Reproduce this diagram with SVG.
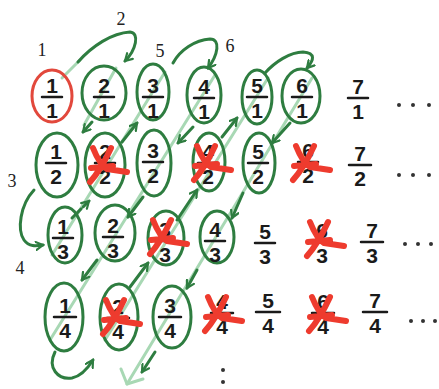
<svg xmlns="http://www.w3.org/2000/svg" width="439" height="389" viewBox="0 0 439 389">
<defs>
<style>
.el{fill:none;stroke:#2e7d40;stroke-width:3}
.red{fill:none;stroke:#e2483c;stroke-width:3}
.ar{fill:none;stroke:#2e7d40;stroke-width:3;stroke-linecap:round;marker-end:url(#ah)}
.lt{fill:none;stroke:#a8d8b4;stroke-width:3;stroke-linecap:round}
.d{font-family:"Liberation Sans",Arial,sans-serif;font-size:21px;font-weight:bold;fill:#1a1a1a;text-anchor:middle}
.bar{stroke:#1a1a1a;stroke-width:2.5;stroke-linecap:round}
.lab{font-family:"Liberation Serif","Times New Roman",serif;font-size:18px;fill:#222;text-anchor:middle}
.x{fill:none;stroke:#ee3b2e;stroke-width:6;stroke-linecap:round;stroke-linejoin:round}
.dot{fill:#333}
</style>
<marker id="ah" viewBox="0 0 10 10" refX="8" refY="5" markerWidth="10" markerHeight="10" markerUnits="userSpaceOnUse" orient="auto">
<path d="M1,1 L8,5 L1,9" fill="none" stroke="#2e7d40" stroke-width="2.2" stroke-linecap="round"/>
</marker>
<path id="cross" d="M-12,-18 C-8,-8 -4,0 2,3 L22,6 M6,-18 C0,-5 -6,6 -15,16 M-14,2 L8,0"/>
</defs>

<g id="connectors">
<path class="lt" d="M62,78 L80,60"/>
<path class="lt" d="M116,68 L84,125"/>
<path class="lt" d="M52,255 L165,72"/>
<path class="lt" d="M215,75 L50,340"/>
<path class="lt" d="M268,78 L105,340"/>
<path class="lt" d="M312,78 L127,384"/>
<path class="lt" d="M127,384 L121,369 M127,384 L143,379"/>
<path class="ar" d="M78,62 C92,46 112,33 130,32 C140,33 136,50 125,61"/>
<path class="ar" d="M92,122 L83,132"/>
<path class="ar" d="M34,190 C20,205 17,230 24,240 C29,247 36,246 43,245"/>
<path class="ar" d="M72,218 L89,201" stroke-dasharray="5 3"/>
<path class="ar" d="M122,142 L137,123"/>
<path class="ar" d="M173,63 C180,50 195,40 210,39 C221,39 218,55 208,68"/>
<path class="ar" d="M193,127 L178,143"/>
<path class="ar" d="M143,197 L128,217"/>
<path class="ar" d="M97,260 L82,280"/>
<path class="ar" d="M55,352 C47,368 58,380 72,378 C82,376 88,368 93,360"/>
<path class="ar" d="M130,287 L148,263"/>
<path class="ar" d="M177,220 L197,190"/>
<path class="ar" d="M222,137 L237,118"/>
<path class="ar" d="M265,73 C275,62 290,52 303,52 C316,53 314,60 307,68"/>
<path class="ar" d="M290,123 L272,143"/>
<path class="ar" d="M243,193 L232,218"/>
<path class="ar" d="M197,270 L187,288"/>
<path class="ar" d="M155,352 L142,372"/>
</g>

<g id="labels">
<text class="lab" x="42" y="56">1</text>
<text class="lab" x="121" y="25">2</text>
<text class="lab" x="12" y="187">3</text>
<text class="lab" x="20" y="274">4</text>
<text class="lab" x="160" y="57">5</text>
<text class="lab" x="230" y="52">6</text>
</g>

<g id="n11"><ellipse class="red" cx="52" cy="96" rx="20" ry="26"/><g transform="translate(52,97)"><text class="d" y="-4">1</text><line class="bar" x1="-10" x2="10"/><text class="d" y="21">1</text></g></g>
<g id="n21"><ellipse class="el" cx="104" cy="93" rx="22" ry="27"/><g transform="translate(104,97)"><text class="d" y="-4">2</text><line class="bar" x1="-10" x2="10"/><text class="d" y="21">1</text></g></g>
<g id="n31"><ellipse class="el" cx="153" cy="92" rx="16" ry="28"/><g transform="translate(153,97)"><text class="d" y="-4">3</text><line class="bar" x1="-10" x2="10"/><text class="d" y="21">1</text></g></g>
<g id="n41"><ellipse class="el" cx="204" cy="95" rx="17" ry="28"/><g transform="translate(204,98)"><text class="d" y="-4">4</text><line class="bar" x1="-10" x2="10"/><text class="d" y="21">1</text></g></g>
<g id="n51"><ellipse class="el" cx="257" cy="97" rx="15" ry="27"/><g transform="translate(257,97)"><text class="d" y="-4">5</text><line class="bar" x1="-10" x2="10"/><text class="d" y="21">1</text></g></g>
<g id="n61"><ellipse class="el" cx="301" cy="96" rx="19" ry="27"/><g transform="translate(302,97)"><text class="d" y="-4">6</text><line class="bar" x1="-10" x2="10"/><text class="d" y="21">1</text></g></g>
<g id="n71"><g transform="translate(358,98)"><text class="d" y="-4">7</text><line class="bar" x1="-10" x2="10"/><text class="d" y="21">1</text></g></g>

<g id="n12"><ellipse class="el" cx="57" cy="165" rx="21" ry="32"/><g transform="translate(56,163)"><text class="d" y="-4">1</text><line class="bar" x1="-10" x2="10"/><text class="d" y="21">2</text></g></g>
<g id="n22"><ellipse class="el" cx="105" cy="165" rx="20" ry="32"/><g transform="translate(105,163)"><text class="d" y="-4">2</text><line class="bar" x1="-10" x2="10"/><text class="d" y="21">2</text></g><use href="#cross" class="x" x="105" y="166"/></g>
<g id="n32"><ellipse class="el" cx="154" cy="163" rx="17" ry="33"/><g transform="translate(153,162)"><text class="d" y="-4">3</text><line class="bar" x1="-10" x2="10"/><text class="d" y="21">2</text></g></g>
<g id="n42"><ellipse class="el" cx="209" cy="162" rx="16" ry="29"/><g transform="translate(208,163)"><text class="d" y="-4">4</text><line class="bar" x1="-10" x2="10"/><text class="d" y="21">2</text></g><use href="#cross" class="x" x="209" y="164"/></g>
<g id="n52"><ellipse class="el" cx="259" cy="163" rx="16" ry="30"/><g transform="translate(258,163)"><text class="d" y="-4">5</text><line class="bar" x1="-10" x2="10"/><text class="d" y="21">2</text></g></g>
<g id="n62"><g transform="translate(308,162)"><text class="d" y="-4">6</text><line class="bar" x1="-10" x2="10"/><text class="d" y="21">2</text></g><use href="#cross" class="x" x="308" y="164"/></g>
<g id="n72"><g transform="translate(360,165)"><text class="d" y="-4">7</text><line class="bar" x1="-11" x2="11"/><text class="d" y="21">2</text></g></g>

<g id="n13"><ellipse class="el" cx="65" cy="235" rx="17" ry="28"/><g transform="translate(63,238)"><text class="d" y="-4">1</text><line class="bar" x1="-10" x2="10"/><text class="d" y="21">3</text></g></g>
<g id="n23"><ellipse class="el" cx="115" cy="233" rx="20" ry="28"/><g transform="translate(113,237)"><text class="d" y="-4">2</text><line class="bar" x1="-10" x2="10"/><text class="d" y="21">3</text></g></g>
<g id="n33"><ellipse class="el" cx="166" cy="238" rx="18" ry="27"/><g transform="translate(165,241)"><text class="d" y="-4">3</text><line class="bar" x1="-10" x2="10"/><text class="d" y="21">3</text></g><use href="#cross" class="x" x="165" y="238"/></g>
<g id="n43"><ellipse class="el" cx="217" cy="237" rx="17" ry="26"/><g transform="translate(215,241)"><text class="d" y="-4">4</text><line class="bar" x1="-10" x2="10"/><text class="d" y="21">3</text></g></g>
<g id="n53"><g transform="translate(265,243)"><text class="d" y="-4">5</text><line class="bar" x1="-10" x2="10"/><text class="d" y="21">3</text></g></g>
<g id="n63"><g transform="translate(322,242)"><text class="d" y="-4">6</text><line class="bar" x1="-10" x2="10"/><text class="d" y="21">3</text></g><use href="#cross" class="x" x="322" y="240"/></g>
<g id="n73"><g transform="translate(372,242)"><text class="d" y="-4">7</text><line class="bar" x1="-11" x2="11"/><text class="d" y="21">3</text></g></g>

<g id="n14"><ellipse class="el" cx="64" cy="317" rx="19" ry="34"/><g transform="translate(65,317)"><text class="d" y="-4">1</text><line class="bar" x1="-11" x2="11"/><text class="d" y="21">4</text></g></g>
<g id="n24"><ellipse class="el" cx="119" cy="317" rx="19" ry="33"/><g transform="translate(118,318)"><text class="d" y="-4">2</text><line class="bar" x1="-11" x2="11"/><text class="d" y="21">4</text></g><use href="#cross" class="x" x="118" y="318"/></g>
<g id="n34"><ellipse class="el" cx="172" cy="317" rx="19" ry="31"/><g transform="translate(170,317)"><text class="d" y="-4">3</text><line class="bar" x1="-11" x2="11"/><text class="d" y="21">4</text></g></g>
<g id="n44"><g transform="translate(222,313)"><text class="d" y="-4">4</text><line class="bar" x1="-11" x2="11"/><text class="d" y="21">4</text></g><use href="#cross" class="x" x="220" y="315"/></g>
<g id="n54"><g transform="translate(268,312)"><text class="d" y="-4">5</text><line class="bar" x1="-12" x2="12"/><text class="d" y="21">4</text></g></g>
<g id="n64"><g transform="translate(323,313)"><text class="d" y="-4">6</text><line class="bar" x1="-11" x2="11"/><text class="d" y="21">4</text></g><use href="#cross" class="x" x="324" y="315"/></g>
<g id="n74"><g transform="translate(375,312)"><text class="d" y="-4">7</text><line class="bar" x1="-12" x2="12"/><text class="d" y="21">4</text></g></g>

<g id="ellipsis">
<circle class="dot" cx="399" cy="105" r="2"/><circle class="dot" cx="413" cy="105" r="2"/><circle class="dot" cx="429" cy="105" r="2"/>
<circle class="dot" cx="399" cy="175" r="2"/><circle class="dot" cx="413" cy="175" r="2"/><circle class="dot" cx="429" cy="175" r="2"/>
<circle class="dot" cx="405" cy="244" r="2"/><circle class="dot" cx="418" cy="244" r="2"/><circle class="dot" cx="431" cy="244" r="2"/>
<circle class="dot" cx="411" cy="321" r="2"/><circle class="dot" cx="423" cy="321" r="2"/><circle class="dot" cx="435" cy="321" r="2"/>
<circle class="dot" cx="223" cy="370" r="2"/><circle class="dot" cx="223" cy="382" r="2"/>
</g>
</svg>
